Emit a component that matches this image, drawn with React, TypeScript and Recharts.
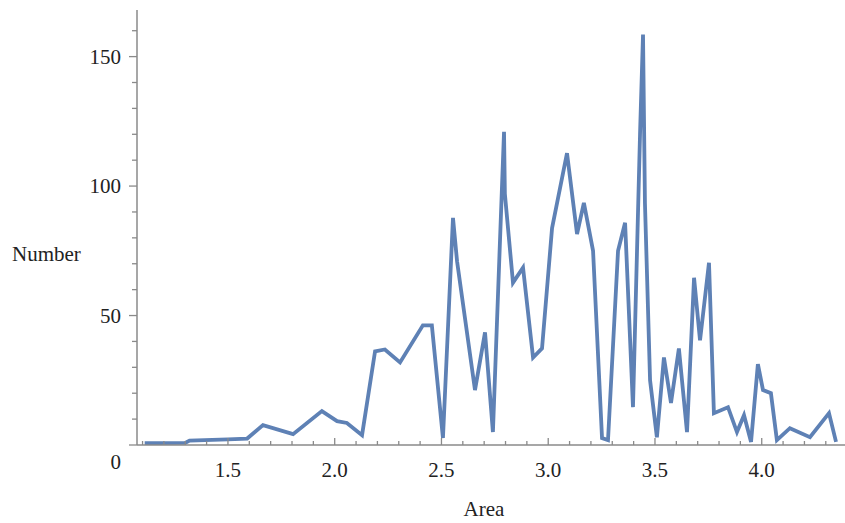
import React from 'react';
import { LineChart, Line, XAxis, YAxis } from 'recharts';

// values
const areas = [
  1.11, 1.30, 1.32, 1.50, 1.59, 1.664, 1.805, 1.94, 2.011, 2.057, 2.128,
  2.189, 2.235, 2.306, 2.413, 2.455, 2.507, 2.554, 2.573, 2.657, 2.704,
  2.741, 2.793, 2.797, 2.835, 2.882, 2.929, 2.971, 3.018, 3.088, 3.135,
  3.167, 3.21, 3.252, 3.28, 3.327, 3.36, 3.397, 3.43, 3.444, 3.453, 3.477,
  3.509, 3.542, 3.575, 3.612, 3.65, 3.683, 3.711, 3.753, 3.776, 3.842,
  3.884, 3.917, 3.95, 3.982, 4.006, 4.043, 4.071, 4.132, 4.226, 4.315, 4.348,
];
const counts = [
  0.7, 0.8, 1.7, 2.2, 2.5, 7.7, 4.2, 13.1, 9.2, 8.5, 3.8,
  36.2, 36.9, 31.9, 46.2, 46.2, 2.7, 87.7, 71, 21.2, 43.5,
  5, 121, 97, 62.7, 68.5, 33.8, 37.3, 83.8, 112.7, 81.5,
  93.5, 75, 2.7, 1.9, 75, 85.8, 14.6, 120, 158.5, 93.5, 25,
  3, 33.8, 16.2, 37.3, 5, 64.6, 40.4, 70.4, 12.3, 14.6,
  5, 11.5, 1.2, 31.2, 21.2, 20, 1.9, 6.5, 3, 12.3, 1.2,
];

const xTicks = [
  1.1, 1.2, 1.3, 1.4, 1.5, 1.6, 1.7, 1.8, 1.9, 2.0, 2.1, 2.2, 2.3, 2.4, 2.5,
  2.6, 2.7, 2.8, 2.9, 3.0, 3.1, 3.2, 3.3, 3.4, 3.5, 3.6, 3.7, 3.8, 3.9, 4.0,
  4.1, 4.2, 4.3,
];
const xLabels = [1.5, 2.0, 2.5, 3.0, 3.5, 4.0];
const yTicks = [0, 10, 20, 30, 40, 50, 60, 70, 80, 90, 100, 110, 120, 130, 140, 150, 160];
const yLabels = [0, 50, 100, 150];

const data = areas.map((a, i) => ({ area: a, count: counts[i] }));

const AXIS = '#8a8a8a';
const FONT = '"Liberation Serif", "DejaVu Serif", serif';
const TEXT = '#222';

const isIn = (list: number[], v: number) => list.some((t) => Math.abs(t - v) < 1e-6);

const XTick = (props: any) => {
  const { x, y, payload } = props;
  const major = isIn(xLabels, payload.value);
  return (
    <g>
      <line x1={x} x2={x} y1={y} y2={y - (major ? 7 : 4)} stroke={AXIS} strokeWidth={1.3} />
      {major && (
        <text x={x} y={y + 32} textAnchor="middle" fontFamily={FONT} fontSize={21} fill={TEXT}>
          {payload.value.toFixed(1)}
        </text>
      )}
    </g>
  );
};

const YTick = (props: any) => {
  const { x, y, payload } = props;
  const major = isIn(yLabels, payload.value);
  return (
    <g>
      <line x1={x} x2={x - (major ? 8 : 5)} y1={y} y2={y} stroke={AXIS} strokeWidth={1.3} />
      {major && (
        <text x={x - 16} y={payload.value === 0 ? y + 24 : y + 7} textAnchor="end" fontFamily={FONT} fontSize={21} fill={TEXT}>
          {payload.value}
        </text>
      )}
    </g>
  );
};

export default function App() {
  return (
    <div style={{ position: 'absolute', left: 0, top: 0, width: 845, height: 523, background: '#fff' }}>
      <LineChart width={845} height={523} data={data} margin={{ top: 10, right: 0, bottom: 0, left: 0 }}>
        <XAxis
          type="number"
          dataKey="area"
          domain={[1.074, 4.39]}
          allowDataOverflow
          ticks={xTicks}
          interval={0}
          height={78}
          tickSize={0}
          tickMargin={0}
          tickLine={false}
          tick={<XTick />}
          axisLine={{ stroke: AXIS, strokeWidth: 1.5 }}
          label={{
            content: () => (
              <text x={484} y={516} textAnchor="middle" fontFamily={FONT} fontSize={21} fill={TEXT}>
                Area
              </text>
            ),
          }}
        />
        <YAxis
          type="number"
          domain={[0, 168]}
          allowDataOverflow
          ticks={yTicks}
          interval={0}
          width={137}
          tickSize={0}
          tickMargin={0}
          tickLine={false}
          tick={<YTick />}
          axisLine={{ stroke: AXIS, strokeWidth: 1.5 }}
          label={{
            content: () => (
              <text x={12} y={261} fontFamily={FONT} fontSize={21} fill={TEXT}>
                Number
              </text>
            ),
          }}
        />
        <Line
          type="linear"
          dataKey="count"
          stroke="#5e81b5"
          strokeWidth={3.8}
          dot={false}
          isAnimationActive={false}
        />
      </LineChart>
    </div>
  );
}
